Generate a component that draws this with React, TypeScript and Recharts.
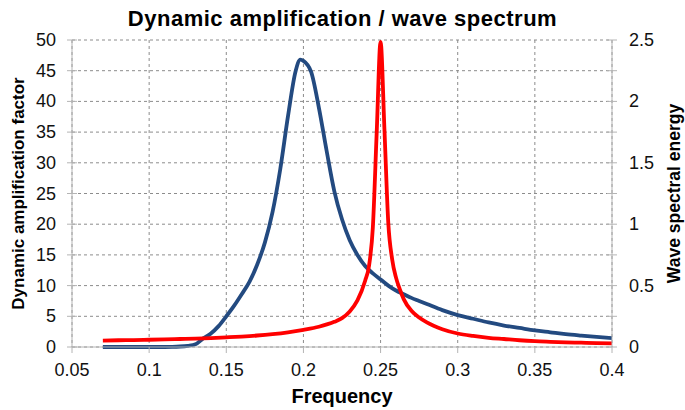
import React from 'react';
import { LineChart, Line, XAxis, YAxis, CartesianGrid, Label } from 'recharts';

// Dynamic amplification factor (left axis)
const dafFreq = [0.07, 0.08, 0.09, 0.1, 0.11, 0.12, 0.13, 0.14, 0.15, 0.16, 0.17, 0.18, 0.19, 0.2, 0.21, 0.22, 0.225, 0.23, 0.235, 0.24, 0.2425, 0.245, 0.2475, 0.25, 0.2525, 0.255, 0.2575, 0.26, 0.2625, 0.265, 0.27, 0.275, 0.28, 0.29, 0.3, 0.31, 0.32, 0.33, 0.34, 0.35, 0.36, 0.37, 0.38, 0.39, 0.4];
const dafValues = [1.05, 1.1, 1.13, 1.18, 1.23, 1.3, 1.37, 1.46, 1.57, 1.7, 1.87, 2.1, 2.4, 2.8, 3.3, 4.1, 4.7, 5.8, 7.6, 10.8, 13.2, 19.5, 35, 49.7, 35.5, 20.2, 14.3, 11.3, 9.4, 7.8, 5.9, 4.8, 4.0, 2.9, 2.2, 1.8, 1.5, 1.3, 1.1, 0.95, 0.85, 0.76, 0.7, 0.63, 0.58];

// Wave spectral energy (right axis)
const waveFreq = [0.07, 0.08, 0.09, 0.1, 0.11, 0.115, 0.12, 0.125, 0.13, 0.135, 0.14, 0.145, 0.15, 0.155, 0.16, 0.165, 0.17, 0.175, 0.18, 0.185, 0.19, 0.195, 0.198, 0.2, 0.205, 0.21, 0.215, 0.22, 0.225, 0.23, 0.235, 0.24, 0.245, 0.25, 0.255, 0.26, 0.265, 0.27, 0.275, 0.28, 0.29, 0.3, 0.31, 0.32, 0.33, 0.34, 0.35, 0.36, 0.37, 0.38, 0.39, 0.4];
const waveValues = [0, 0, 0, 0, 0, 0.001, 0.004, 0.01, 0.022, 0.07, 0.11, 0.17, 0.25, 0.335, 0.43, 0.53, 0.67, 0.85, 1.1, 1.45, 1.88, 2.25, 2.34, 2.33, 2.24, 1.95, 1.6, 1.27, 1.04, 0.87, 0.75, 0.66, 0.6, 0.55, 0.5, 0.46, 0.43, 0.4, 0.375, 0.35, 0.3, 0.26, 0.23, 0.2, 0.175, 0.155, 0.135, 0.12, 0.105, 0.093, 0.082, 0.073];

const xTicks = [0.05, 0.1, 0.15, 0.2, 0.25, 0.3, 0.35, 0.4];
const leftTicks = [0, 5, 10, 15, 20, 25, 30, 35, 40, 45, 50];
const rightTicks = [0, 0.25, 0.5, 0.75, 1, 1.25, 1.5, 1.75, 2, 2.25, 2.5];
const rightLabeled = [0, 0.5, 1, 1.5, 2, 2.5];

const dafData = dafFreq.map((f, i) => ({ f, daf: dafValues[i] }));
const waveData = waveFreq.map((f, i) => ({ f, wave: waveValues[i] }));

const FONT = 'Arial, "Liberation Sans", sans-serif';
const AXIS_COLOR = '#b4b4b4';
const TICK_FONT = 18;

const fmt = (v: number) => String(Math.round(v * 100) / 100);

const LeftTick = (props: any) => {
  const { x, y, payload } = props;
  return (
    <g>
      <line x1={x - 5} y1={y} x2={x + 5} y2={y} stroke={AXIS_COLOR} strokeWidth={1} />
      <text x={x - 16} y={y} dy={6} textAnchor="end" fontSize={TICK_FONT} fill="#111" fontFamily={FONT}>
        {fmt(payload.value)}
      </text>
    </g>
  );
};

const RightTick = (props: any) => {
  const { x, y, payload } = props;
  const show = rightLabeled.includes(payload.value);
  return (
    <g>
      <line x1={x - 5} y1={y} x2={x + 5} y2={y} stroke={AXIS_COLOR} strokeWidth={1} />
      {show && (
        <text x={x + 17} y={y} dy={6} textAnchor="start" fontSize={TICK_FONT} fill="#111" fontFamily={FONT}>
          {fmt(payload.value)}
        </text>
      )}
    </g>
  );
};

const BottomTick = (props: any) => {
  const { x, y, payload } = props;
  return (
    <g>
      <line x1={x} y1={y} x2={x} y2={y + 6} stroke={AXIS_COLOR} strokeWidth={1} />
      <text x={x} y={y + 29} textAnchor="middle" fontSize={TICK_FONT} fill="#111" fontFamily={FONT}>
        {fmt(payload.value)}
      </text>
    </g>
  );
};

export default function App() {
  return (
    <div style={{ position: 'absolute', left: 0, top: 0, width: 685, height: 410, background: '#fff', fontFamily: FONT }}>
      <div style={{ position: 'absolute', left: 0, top: 6, width: 685, textAlign: 'center', fontSize: 22, lineHeight: '26px', fontWeight: 'bold', letterSpacing: 0.5, color: '#000', fontFamily: FONT }}>
        Dynamic amplification / wave spectrum
      </div>
      <LineChart width={685} height={410} margin={{ top: 40, right: 13, bottom: 28, left: 12 }}>
        <CartesianGrid yAxisId="left" stroke="#8c8c8c" strokeDasharray="3 3" />
        <XAxis
          dataKey="f"
          type="number"
          domain={[0.05, 0.4]}
          ticks={xTicks}
          allowDataOverflow
          height={35}
          tick={<BottomTick />}
          tickLine={false}
          stroke={AXIS_COLOR}
          tickSize={0}
          tickMargin={0}
        >
          <Label value="Frequency" position="insideBottom" offset={-21} style={{ fontSize: 20, fontWeight: 'bold', fill: '#000', fontFamily: FONT }} />
        </XAxis>
        <YAxis
          yAxisId="left"
          domain={[0, 50]}
          ticks={leftTicks}
          width={60}
          tick={<LeftTick />}
          tickLine={false}
          stroke={AXIS_COLOR}
          tickSize={0}
          tickMargin={0}
        >
          <Label value="Dynamic amplification factor" angle={-90} position="insideLeft" offset={5.5} style={{ fontSize: 17, fontWeight: 'bold', fill: '#000', fontFamily: FONT, textAnchor: 'middle' }} />
        </YAxis>
        <YAxis
          yAxisId="right"
          orientation="right"
          domain={[0, 2.5]}
          ticks={rightTicks}
          width={60}
          tick={<RightTick />}
          tickLine={false}
          stroke={AXIS_COLOR}
          tickSize={0}
          tickMargin={0}
        >
          <Label value="Wave spectral energy" angle={-90} position="insideRight" offset={-1.5} style={{ fontSize: 17.5, fontWeight: 'bold', fill: '#000', fontFamily: FONT, textAnchor: 'middle' }} />
        </YAxis>
        <Line
          yAxisId="right"
          data={waveData}
          dataKey="wave"
          type="monotone"
          stroke="#234A80"
          strokeWidth={3.8}
          dot={false}
          isAnimationActive={false}
        />
        <Line
          yAxisId="left"
          data={dafData}
          dataKey="daf"
          type="monotone"
          stroke="#FF0000"
          strokeWidth={3.8}
          dot={false}
          isAnimationActive={false}
        />
      </LineChart>
    </div>
  );
}
